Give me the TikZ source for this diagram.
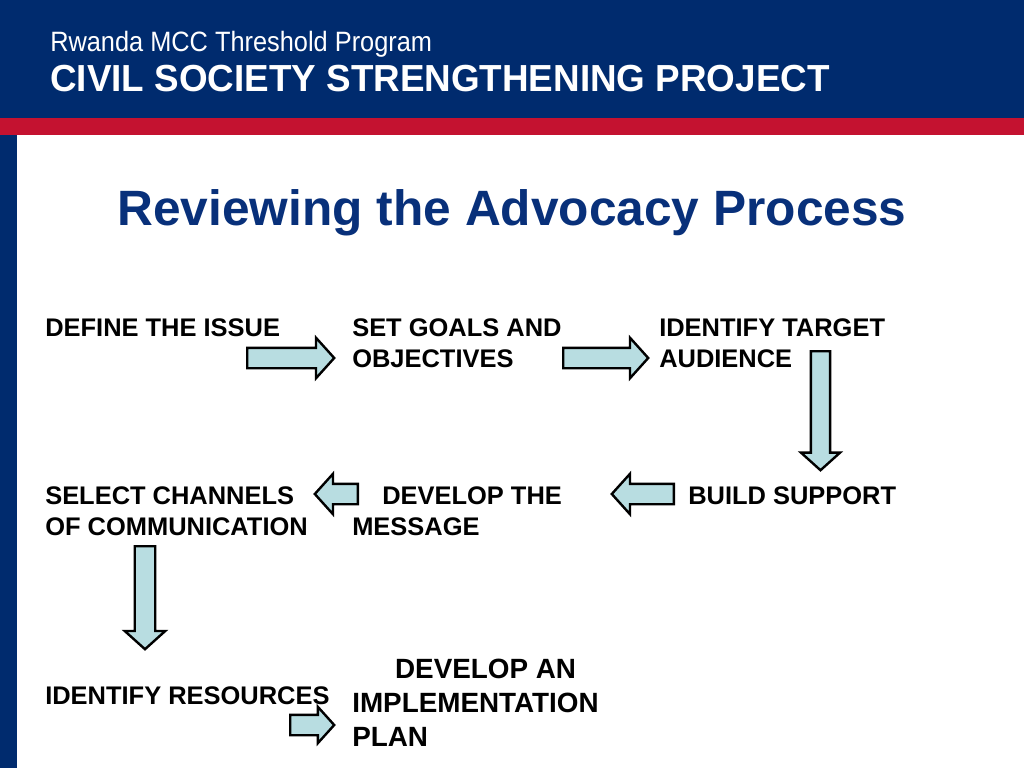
\documentclass[tikz,border=0pt]{standalone}
\usepackage{fontspec}
\setmainfont{Liberation Sans}
\usepackage{graphicx}
\usetikzlibrary{shapes.arrows, positioning}

\definecolor{hdrblue}{RGB}{0,43,110}
\definecolor{hdrred}{RGB}{196,18,48}
\definecolor{titleblue}{RGB}{8,48,122}
\definecolor{arrowfill}{RGB}{184,221,225}

\begin{document}
\begin{tikzpicture}[
    x=0.025cm, y=-0.025cm,
    stepbox/.style={anchor=north west, inner sep=0pt, align=left, font=\bfseries\fontsize{18.1}{22.6}\selectfont},
    bigbox/.style={anchor=north west, inner sep=0pt, align=left, font=\bfseries\fontsize{19.8}{24.2}\selectfont},
    blockarrow/.style={single arrow, draw=black, line width=1.7pt, fill=arrowfill, inner xsep=0pt, inner ysep=0.225cm,
        single arrow head extend=0.25cm, single arrow tip angle=96, anchor=tail}
]
\useasboundingbox (0,0) rectangle (1024,768);

% Header band
\fill[hdrblue] (0,0) rectangle (1024,118);
\fill[hdrred] (0,118) rectangle (1024,135.5);
\fill[hdrblue] (0,135.5) rectangle (17,768);

\node[anchor=base west, inner sep=0pt, text=white, font=\fontsize{19.9}{24}\selectfont] (program) at (50,52)
    {\scalebox{0.906}[1]{Rwanda MCC Threshold Program}};
\node[anchor=base west, inner sep=0pt, text=white, font=\bfseries\fontsize{26.8}{32}\selectfont] (project) at (50,92)
    {\scalebox{0.977}[1]{CIVIL SOCIETY STRENGTHENING PROJECT}};

% Title
\node[anchor=base, inner sep=0pt, text=titleblue, font=\bfseries\fontsize{35.3}{42}\selectfont] (title) at (512,225)
    {Reviewing the Advocacy Process};

% Process steps
\node[stepbox] (issue) at (45,318) {DEFINE THE ISSUE};
\node[stepbox] (goals) at (352,318) {SET GOALS AND\\OBJECTIVES};
\node[stepbox] (audience) at (659,318) {IDENTIFY TARGET\\AUDIENCE};
\node[stepbox] (support) at (688,486) {BUILD SUPPORT};
\node[stepbox] (message) at (352,486) {\hspace*{0.75cm}DEVELOP THE\\MESSAGE};
\node[stepbox] (channels) at (45,486) {SELECT CHANNELS\\OF COMMUNICATION};
\node[stepbox] (resources) at (45,686) {IDENTIFY RESOURCES};
\node[bigbox] (plan) at (352,659) {\hspace*{1.07cm}DEVELOP AN\\IMPLEMENTATION\\PLAN};

% Block arrows
\node[blockarrow, minimum height=2.175cm] (a1) at (246,358) {};
\node[blockarrow, minimum height=2.125cm] (a2) at (562,358) {};
\node[blockarrow, minimum height=2.975cm, rotate=-90, inner ysep=0.21cm] (a3) at (820.5,350) {};
\node[blockarrow, minimum height=1.55cm, rotate=180] (a4) at (675,494) {};
\node[blockarrow, minimum height=1.075cm, rotate=180] (a5) at (359,494) {};
\node[blockarrow, minimum height=2.575cm, rotate=-90] (a6) at (145,545) {};
\node[blockarrow, minimum height=1.1cm, single arrow head extend=0.2cm] (a7) at (289,725) {};

\end{tikzpicture}
\end{document}
